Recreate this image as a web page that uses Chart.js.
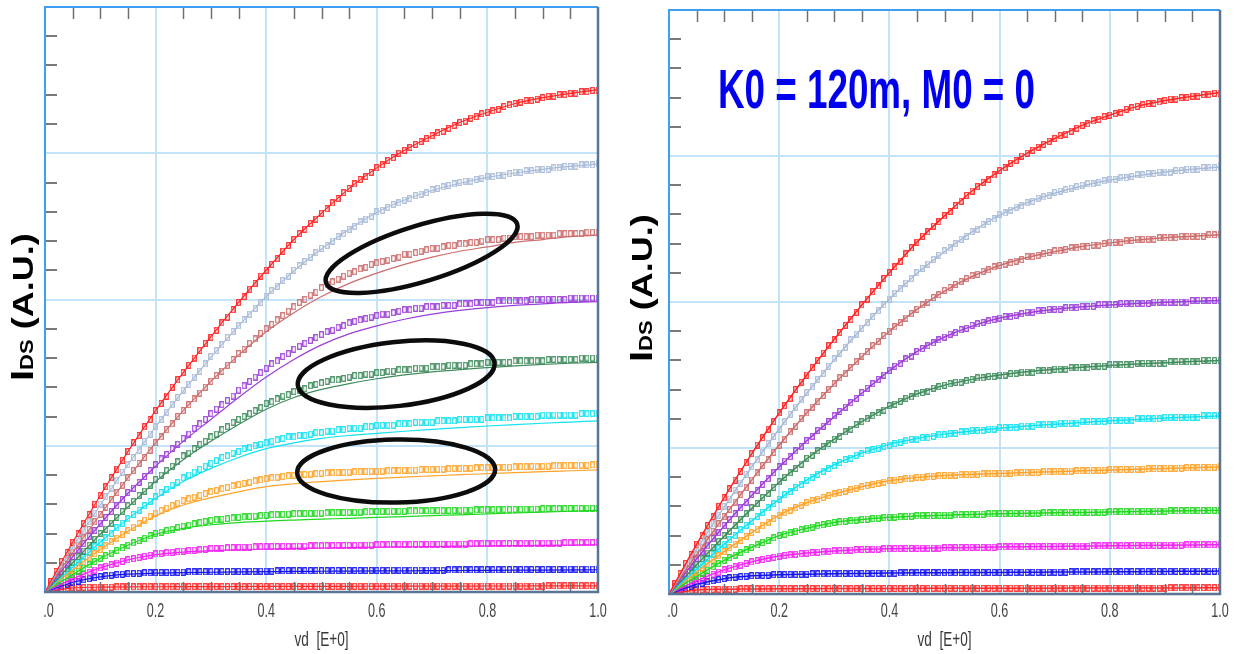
<!DOCTYPE html>
<html>
<head>
<meta charset="utf-8">
<script src="https://cdn.jsdelivr.net/npm/chart.js@4.4.1/dist/chart.umd.min.js"></script>
<style>
    html, body { margin: 0; padding: 0; background: #fff; }
    #wrap { position: relative; width: 1234px; height: 654px; overflow: hidden; }
    canvas { position: absolute; top: 0; }
    #leftChart { left: 0; }
    #rightChart { left: 617px; }
</style>
</head>
<body>
<div id="wrap">
    <canvas id="leftChart" width="617" height="654"></canvas>
    <canvas id="rightChart" width="617" height="654"></canvas>
</div>
<script>
// Drain sweep of the measured points (V)
const vd = [0,0.01,0.02,0.03,0.04,0.05,0.06,0.07,0.08,0.09,0.1,0.11,0.12,0.13,0.14,0.15,0.16,0.17,0.18,0.19,
    0.2,0.21,0.22,0.23,0.24,0.25,0.26,0.27,0.28,0.29,0.3,0.31,0.32,0.33,0.34,0.35,0.36,0.37,0.38,0.39,
    0.4,0.41,0.42,0.43,0.44,0.45,0.46,0.47,0.48,0.49,0.5,0.51,0.52,0.53,0.54,0.55,0.56,0.57,0.58,0.59,
    0.6,0.61,0.62,0.63,0.64,0.65,0.66,0.67,0.68,0.69,0.7,0.71,0.72,0.73,0.74,0.75,0.76,0.77,0.78,0.79,
    0.8,0.81,0.82,0.83,0.84,0.85,0.86,0.87,0.88,0.89,0.9,0.91,0.92,0.93,0.94,0.95,0.96,0.97,0.98,0.99,1];

// Sweep used by the model curves
const vdModel = [0,0.05,0.1,0.15,0.2,0.25,0.3,0.35,0.4,0.45,0.5,0.55,0.6,0.65,0.7,0.75,0.8,0.85,0.9,0.95,1];

// Measured IDS (A.U. x100), one array per gate step, top to bottom
const measRed = [0,7,14,21,27,34,40,47,53,60,66,72,78,84,90,96,102,107,113,118,124,129,134,140,145,150,155,160,165,170,
    174,179,184,188,193,198,202,207,211,216,220,224,228,233,237,241,245,248,252,255,259,262,266,269,273,276,279,282,284,287,
    290,292,295,297,300,302,304,306,308,310,312,314,315,317,319,321,322,324,325,327,328,329,330,332,333,334,335,336,336,337,
    338,339,339,340,340,341,341,342,342,343,343];
const measSteel = [0,6,12,18,25,31,36,42,48,54,60,65,71,76,82,87,92,97,103,108,113,118,123,128,133,138,142,147,151,156,
    161,165,169,174,178,182,186,190,194,198,202,206,209,213,216,220,223,226,229,232,235,237,240,243,245,248,250,253,255,257,
    260,261,263,265,266,268,269,271,272,273,275,276,277,278,279,280,281,281,282,283,284,284,285,285,286,287,287,288,288,289,
    289,289,290,290,291,291,291,292,292,292,293];
const measRosy = [0,5,11,16,22,27,32,37,43,48,53,58,63,68,73,78,83,88,92,97,102,106,111,115,120,124,128,132,136,140,
    144,148,151,155,159,163,166,170,173,177,180,183,186,189,192,195,198,200,203,205,208,210,212,214,216,218,219,221,222,224,
    225,226,227,228,229,231,231,232,233,234,235,235,236,237,237,238,238,239,239,240,241,241,241,242,242,243,243,243,243,244,
    244,244,244,245,245,245,245,245,246,246,246];
const measPurple = [0,5,10,14,19,24,29,33,38,42,47,51,55,59,63,68,71,75,79,83,87,91,94,98,101,105,108,112,115,118,
    122,125,128,131,134,138,141,144,147,150,153,156,158,161,163,166,168,170,172,174,176,178,179,181,182,184,185,186,187,188,
    189,190,190,191,192,193,193,194,194,195,195,195,196,196,196,197,197,197,198,198,198,198,199,199,199,199,199,199,200,200,
    200,200,200,200,200,201,201,201,201,201,201];
const measDkGreen = [0,4,8,12,16,20,24,28,32,36,40,43,47,51,55,59,62,66,69,73,77,80,83,86,89,93,95,98,101,103,
    106,108,111,113,116,118,120,122,124,126,129,130,132,134,135,137,138,139,141,142,143,144,145,145,146,147,148,148,149,149,
    150,150,151,151,152,152,152,153,153,153,154,154,154,155,155,155,155,156,156,156,157,157,157,157,157,158,158,158,158,158,
    158,159,159,159,159,159,159,160,160,160,160];
const measCyan = [0,3,7,10,14,17,20,24,27,31,34,37,40,44,47,50,53,56,59,62,65,68,70,73,75,78,80,82,84,86,
    88,90,92,93,95,96,98,99,100,101,102,103,104,105,106,106,107,107,108,109,109,110,110,111,111,112,112,112,113,113,
    114,114,114,114,115,115,115,116,116,116,116,117,117,117,117,118,118,118,118,118,119,119,119,119,119,120,120,120,120,120,
    121,121,121,121,121,121,121,122,122,122,122];
const measOrange = [0,3,6,9,12,15,17.8,20.6,23.4,26.2,29,31.6,34.2,36.8,39.4,42,44.4,46.8,49.2,51.6,54,55.7,57.4,59.1,60.8,
    62.5,63.7,64.9,66.1,67.3,68.5,69.5,70.5,71.5,72.5,73.5,74.3,75.1,75.9,76.7,77.5,78,78.4,78.9,79.4,79.8,80.1,80.4,80.6,80.9,
    81.2,81.4,81.5,81.7,81.8,82,82.1,82.2,82.4,82.5,82.6,82.7,82.8,83,83.1,83.2,83.3,83.4,83.6,83.7,83.8,83.9,84,84.2,84.3,
    84.4,84.5,84.6,84.8,84.9,85,85.1,85.2,85.3,85.4,85.5,85.6,85.7,85.8,85.9,86,86.1,86.2,86.3,86.4,86.5,86.6,86.7,86.8,86.9,87];
const measGreen = [0,2.4,4.8,7.2,9.6,12,14.2,16.4,18.6,20.8,23,24.8,26.6,28.4,30.2,32,33.6,35.2,36.8,38.4,40,41,42,43,44,
    45,45.8,46.6,47.4,48.2,49,49.4,49.8,50.2,50.6,51,51.3,51.6,51.9,52.2,52.5,52.7,52.9,53.1,53.3,53.5,53.6,53.7,53.8,53.9,
    54,54.1,54.2,54.3,54.4,54.5,54.6,54.7,54.8,54.9,55,55.1,55.1,55.2,55.2,55.3,55.4,55.4,55.5,55.5,55.6,55.7,55.7,55.8,55.8,
    55.9,56,56,56.1,56.1,56.2,56.3,56.3,56.4,56.4,56.5,56.6,56.6,56.7,56.7,56.8,56.9,56.9,57,57,57.1,57.2,57.2,57.3,57.3,57.4];
const measMagenta = [0,1.8,3.6,5.4,7.2,9,10.5,12,13.5,15,16.5,17.6,18.7,19.8,20.9,22,22.8,23.6,24.4,25.2,26,26.4,26.8,27.2,27.6,
    28,28.3,28.6,28.9,29.2,29.5,29.7,29.9,30.1,30.3,30.5,30.6,30.7,30.8,30.9,31,31.1,31.1,31.2,31.2,31.3,31.4,31.4,31.5,31.5,
    31.6,31.7,31.7,31.8,31.8,31.9,32,32,32.1,32.1,32.2,32.2,32.3,32.3,32.4,32.4,32.4,32.5,32.5,32.6,32.6,32.6,32.7,32.7,32.8,
    32.8,32.8,32.9,32.9,33,33,33,33.1,33.1,33.2,33.2,33.2,33.3,33.3,33.4,33.4,33.4,33.5,33.5,33.6,33.6,33.6,33.7,33.7,33.8,33.8];
const measBlue = [0,1.4,2.8,4.1,5.3,6.5,7.4,8.3,9.1,9.8,10.5,11,11.5,11.9,12.2,12.5,12.7,12.8,13,13.1,13.2,13.3,13.4,13.4,13.5,
    13.6,13.7,13.7,13.8,13.8,13.9,13.9,14,14,14.1,14.1,14.1,14.2,14.2,14.3,14.3,14.3,14.4,14.4,14.5,14.5,14.5,14.5,14.6,14.6,
    14.6,14.6,14.6,14.7,14.7,14.7,14.7,14.7,14.8,14.8,14.8,14.8,14.8,14.9,14.9,14.9,14.9,14.9,15,15,15,15,15,15.1,15.1,
    15.1,15.1,15.1,15.2,15.2,15.2,15.2,15.2,15.3,15.3,15.3,15.3,15.3,15.4,15.4,15.4,15.4,15.5,15.5,15.6,15.6,15.6,15.6,15.7,15.7,15.7];
const measRedLow = [0,1,1.8,2.3,2.6,2.8,3,3.1,3.2,3.25,3.3,3.35,3.4,3.45,3.5,3.5,3.5,3.5,3.6,3.6,3.6,3.6,3.6,3.6,3.6,
    3.7,3.7,3.7,3.7,3.7,3.7,3.7,3.7,3.7,3.7,3.7,3.7,3.8,3.8,3.8,3.8,3.8,3.8,3.8,3.8,3.8,3.8,3.9,3.9,3.9,
    3.9,3.9,3.9,3.9,3.9,3.9,3.9,3.9,3.9,3.9,3.9,4,4,4,4,4,4,4,4,4,4,4,4,4,4,
    4,4,4.1,4.1,4.1,4.1,4.1,4.1,4.1,4.1,4.1,4.1,4.1,4.1,4.1,4.1,4.2,4.2,4.2,4.2,4.2,4.2,4.2,4.2,4.2,4.2];

// Model with K0 = 120m, M0 = 0 (right panel) - follows the measurement
const fitRed = [0,34,66,96,124,150,174.5,198,220,241,259,276,290,302,312,321,328,334,338,341,343.5];
const fitSteel = [0,30.5,59.5,87,113,137.5,160.5,182,202,219.5,234.5,248,259.5,268,274.5,279.5,283.5,286.5,289,291,292.5];
const fitRosy = [0,27,53,78,102,124,144,162.5,180,195,207.5,217.5,225,230.5,234.5,238,240.5,242.5,244,245,246];
const fitPurple = [0,24,46.5,67.5,87,105,121.5,137.5,153,166,176,183.5,189,192.5,195,196.75,198,199,199.75,200.5,201];
const fitDkGreen = [0,20,39.5,58.5,76.5,92.5,106,118,128.5,137,143,147,150,152.2,153.9,155.3,156.5,157.5,158.4,159.2,160];
const fitCyan = [0,17,34,50,65,78,88.5,96.5,102.5,106.5,109.5,111.7,113.5,115,116.3,117.5,118.6,119.6,120.5,121.3,122];
const fitOrange = [0,15,29,42,54,62.5,68.5,73.5,77.5,79.8,81.2,82,82.6,83.2,83.8,84.4,85,85.5,86,86.5,87];
const fitGreen = [0,12,23,32,40,45,49,51,52.5,53.5,54,54.5,55,55.3,55.6,55.9,56.2,56.5,56.8,57.1,57.4];
const fitMagenta = [0,9,16.5,22,26,28,29.5,30.5,31,31.3,31.6,31.9,32.2,32.4,32.6,32.8,33,33.2,33.4,33.6,33.8];
const fitBlue = [0,6.5,10.5,12.5,13.2,13.6,13.9,14.1,14.3,14.5,14.6,14.7,14.8,14.9,15,15.1,15.2,15.3,15.4,15.6,15.7];
const fitRedLow = [0,2.8,3.3,3.5,3.6,3.65,3.7,3.75,3.8,3.85,3.9,3.9,3.95,4,4,4.05,4.1,4.1,4.15,4.2,4.2];

// Old model (left panel) - falls below the data in saturation
const oldRosy = [0,27,53,78,102,124,144,162,178,191,202,211,218,224,229,233,236,239,241,243,244];
const oldPurple = [0,24,46.5,67.5,86,103,118,133,147,159,169,176.5,182,186.5,190,192.5,194.5,196,197,198,198.5];
const oldDkGreen = [0,20,39.5,58,75.5,90.5,103,114.5,125,133,138.5,142.5,145.8,148.4,150.5,152.1,153.4,154.6,155.6,156.4,157];
const oldCyan = [0,17,34,50,64,75.5,84.5,92,98,102,105,107,108.5,109.9,111.2,112.4,113.5,114.5,115.4,116.2,117];
const oldOrange = [0,15,29,41.5,52,59.5,64.5,68.5,72,74,75.5,76.7,77.7,78.6,79.4,80.2,80.9,81.6,82.3,82.9,83.5];
const oldGreen = [0,12,23,32,39.5,43.5,46,47.5,48.5,49.2,49.8,50.4,51,51.6,52.2,52.8,53.4,54,54.6,55.2,55.8];
const oldMagenta = [0,9,16.5,22,25.5,27.3,28.3,28.9,29.4,29.8,30.1,30.4,30.7,30.9,31.1,31.3,31.5,31.7,31.9,32.1,32.3];
const oldBlue = [0,6.5,10.3,12.2,12.9,13.3,13.5,13.7,13.9,14.1,14.2,14.3,14.4,14.5,14.6,14.7,14.8,14.9,15,15.1,15.2];

// Axis ticks
const xTickValues = [0, 0.2, 0.4, 0.6, 0.8, 1];
const xTickLabels = ['0.0', '0.2', '0.4', '0.6', '0.8', '1.0'];
const xMinorTicks = [0.05,0.1,0.15,0.25,0.3,0.35,0.45,0.5,0.55,0.65,0.7,0.75,0.85,0.9,0.95];
const yMinorTicks = [20,40,60,80,120,140,160,180,220,240,260,280,320,340,360,380];

const curveColors = ['#ff2424', '#a9bbd8', '#cd6c6c', '#9c3ed8', '#3f8c5c', '#12e2f0',
    '#ffa32a', '#1fd81f', '#f222f2', '#1414f0', '#ff2a2a'];

const measured = [measRed, measSteel, measRosy, measPurple, measDkGreen, measCyan,
    measOrange, measGreen, measMagenta, measBlue, measRedLow];
const rightFits = [fitRed, fitSteel, fitRosy, fitPurple, fitDkGreen, fitCyan,
    fitOrange, fitGreen, fitMagenta, fitBlue, fitRedLow];
const leftFits = [fitRed, fitSteel, oldRosy, oldPurple, oldDkGreen, oldCyan,
    oldOrange, oldGreen, oldMagenta, oldBlue, fitRedLow];

const FONT = '"Liberation Sans", Arial, sans-serif';

function toPoints(xs, ys) {
    return ys.map((y, i) => ({ x: xs[i], y: y }));
}

// small hollow box used as the data marker
function markerImage(color) {
    const c = document.createElement('canvas');
    c.width = 5;
    c.height = 7;
    const g = c.getContext('2d');
    g.strokeStyle = color;
    g.lineWidth = 1.2;
    g.strokeRect(0.7, 0.7, 3.6, 5.6);
    return c;
}

function buildDatasets(fits, lineWidth) {
    const lines = fits.map((fit, i) => ({
        data: toPoints(vdModel, fit),
        showLine: true,
        borderColor: curveColors[i],
        borderWidth: lineWidth,
        pointRadius: 0,
        cubicInterpolationMode: 'monotone',
        fill: false
    }));
    const marks = measured.map((m, i) => ({
        data: toPoints(vd, m),
        showLine: false,
        pointStyle: markerImage(curveColors[i]),
        pointRadius: 3,
        borderColor: curveColors[i]
    }));
    return lines.concat(marks);
}

function squishText(ctx, text, x, y, sx, align) {
    ctx.save();
    ctx.translate(x, y);
    ctx.scale(sx, 1);
    ctx.textAlign = align;
    ctx.fillText(text, 0, 0);
    ctx.restore();
}

function drawYTitle(ctx, baseX, startY) {
    ctx.save();
    ctx.translate(baseX, startY);
    ctx.rotate(-Math.PI / 2);
    ctx.scale(1, 0.8);
    ctx.fillStyle = '#000';
    ctx.textAlign = 'left';
    ctx.textBaseline = 'alphabetic';
    let pos = 0;
    ctx.font = 'bold 40px ' + FONT;
    ctx.fillText('I', pos, 0);
    pos += ctx.measureText('I').width;
    ctx.font = 'bold 22px ' + FONT;
    ctx.fillText('DS', pos, 0);
    pos += ctx.measureText('DS').width;
    ctx.font = 'bold 36px ' + FONT;
    ctx.fillText(' (A.U.)', pos, 0);
    ctx.restore();
}

function decorPlugin(cfg) {
    return {
        id: 'decor',
        afterDraw(chart) {
            const ctx = chart.ctx;
            const a = chart.chartArea;
            const xs = chart.scales.x;
            const ys = chart.scales.y;
            ctx.save();

            // minor ticks, pointing inward
            ctx.strokeStyle = '#707070';
            ctx.lineWidth = 1.5;
            xMinorTicks.forEach(v => {
                const px = Math.round(xs.getPixelForValue(v)) + 0.5;
                ctx.beginPath();
                ctx.moveTo(px, a.top);
                ctx.lineTo(px, a.top + 12);
                ctx.moveTo(px, a.bottom);
                ctx.lineTo(px, a.bottom - 10);
                ctx.stroke();
            });
            ctx.strokeStyle = '#7a7a7a';
            ctx.lineWidth = 2;
            yMinorTicks.forEach(v => {
                const py = Math.round(ys.getPixelForValue(v));
                ctx.beginPath();
                ctx.moveTo(a.left, py);
                ctx.lineTo(a.left + 12, py);
                ctx.stroke();
            });

            // frame
            ctx.lineWidth = 2;
            ctx.strokeStyle = '#3e9ef2';
            ctx.beginPath();
            ctx.moveTo(a.left, a.bottom);
            ctx.lineTo(a.left, a.top);
            ctx.lineTo(a.right, a.top);
            ctx.stroke();
            ctx.strokeStyle = '#5a7494';
            ctx.lineWidth = 2.5;
            ctx.beginPath();
            ctx.moveTo(a.right, a.top);
            ctx.lineTo(a.right, a.bottom);
            ctx.lineTo(a.left - 1, a.bottom);
            ctx.stroke();

            // hand-drawn rings
            ctx.strokeStyle = '#0c0c0c';
            ctx.lineWidth = 4.5;
            (cfg.rings || []).forEach(r => {
                ctx.beginPath();
                ctx.ellipse(xs.getPixelForValue(r.vd), ys.getPixelForValue(r.ids),
                    r.rx, r.ry, r.tilt * Math.PI / 180, 0, Math.PI * 2);
                ctx.stroke();
            });

            // x tick labels, clipped at the left edge like the original
            ctx.save();
            ctx.beginPath();
            ctx.rect(a.left - 2, 0, chart.width, chart.height);
            ctx.clip();
            ctx.fillStyle = '#444';
            ctx.font = '21px ' + FONT;
            xTickValues.forEach((v, i) => {
                squishText(ctx, xTickLabels[i], xs.getPixelForValue(v), 617, 0.6, 'center');
            });
            ctx.restore();

            // axis titles
            ctx.fillStyle = '#383838';
            ctx.font = '20px ' + FONT;
            squishText(ctx, 'vd  [E+0]', (a.left + a.right) / 2, 646, 0.68, 'center');
            drawYTitle(ctx, cfg.titleX, cfg.titleY);

            // note
            if (cfg.note) {
                ctx.fillStyle = '#0000ee';
                ctx.font = 'bold 56px ' + FONT;
                const w = ctx.measureText(cfg.note.text).width;
                squishText(ctx, cfg.note.text, cfg.note.x, cfg.note.y, cfg.note.width / w, 'left');
            }
            ctx.restore();
        }
    };
}

function panelOptions(padding) {
    const grid = { color: '#c3e3f9', lineWidth: 2, drawTicks: false };
    return {
        responsive: false,
        animation: false,
        devicePixelRatio: 1,
        events: [],
        layout: { padding: padding },
        plugins: { legend: { display: false }, tooltip: { enabled: false } },
        scales: {
            x: {
                type: 'linear', min: 0, max: 1,
                ticks: { display: false, stepSize: 0.2 },
                grid: grid,
                border: { display: false },
                afterFit: s => { s.height = 0; }
            },
            y: {
                type: 'linear', min: 0, max: 400,
                ticks: { display: false, stepSize: 100 },
                grid: grid,
                border: { display: false },
                afterFit: s => { s.width = 0; }
            }
        }
    };
}

new Chart(document.getElementById('leftChart'), {
    type: 'scatter',
    data: { datasets: buildDatasets(leftFits, 1.2) },
    options: panelOptions({ left: 45, top: 7, right: 19, bottom: 62 }),
    plugins: [decorPlugin({
        titleX: 33, titleY: 381,
        rings: [
            { vd: 0.681, ids: 231.5, rx: 100, ry: 28, tilt: -17 },
            { vd: 0.635, ids: 149, rx: 99, ry: 32, tilt: -6.5 },
            { vd: 0.635, ids: 82.7, rx: 99, ry: 31.5, tilt: -1 }
        ]
    })]
});

new Chart(document.getElementById('rightChart'), {
    type: 'scatter',
    data: { datasets: buildDatasets(rightFits, 1.5) },
    options: panelOptions({ left: 52, top: 10, right: 14, bottom: 60 }),
    plugins: [decorPlugin({
        titleX: 35, titleY: 362,
        note: { text: 'K0 = 120m, M0 = 0', x: 101, y: 108, width: 317 }
    })]
});
</script>
</body>
</html>
